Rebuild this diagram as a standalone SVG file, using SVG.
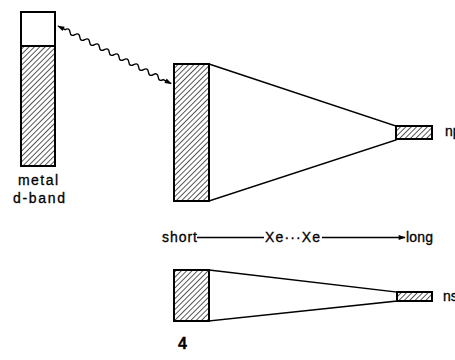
<svg xmlns="http://www.w3.org/2000/svg" width="455" height="360" viewBox="0 0 455 360">
<defs>
<pattern id="hatch" patternUnits="userSpaceOnUse" width="3.8" height="3.8" patternTransform="rotate(45)">
<line x1="0" y1="0" x2="0" y2="3.8" stroke="#000" stroke-width="1.3"/>
</pattern>
<marker id="ah" viewBox="0 0 10 10" refX="9" refY="5" markerWidth="10" markerHeight="7" markerUnits="userSpaceOnUse" orient="auto-start-reverse">
<path d="M0,1.5 L10,5 L0,8.5 z" fill="#000"/>
</marker>
</defs>
<style>
.box{stroke:#000;stroke-width:2;}
.ln{stroke:#000;stroke-width:1.4;fill:none;}
.t{font-family:"Liberation Sans","DejaVu Sans",sans-serif;font-size:14px;fill:#000;stroke:#000;stroke-width:0.3;}
</style>
<rect width="455" height="360" fill="#fff"/>
<g id="metal">
<rect x="21" y="46" width="34" height="120" fill="url(#hatch)"/>
<rect x="21" y="12" width="34" height="154" fill="none" class="box"/>
<line x1="21" y1="46" x2="55" y2="46" class="box"/>
<text class="t" x="38" y="185" text-anchor="middle" textLength="40">metal</text>
<text class="t" x="39" y="203" text-anchor="middle" textLength="52">d-band</text>
</g>
<g id="np-set">
<polygon points="209,64 396,126 396,140 209,201" fill="#fff" class="ln"/>
<rect x="174" y="64" width="35" height="137" fill="url(#hatch)" class="box"/>
<rect x="396" y="126" width="36" height="13" fill="url(#hatch)" class="box"/>
<text class="t" x="445" y="136">np</text>
</g>
<g id="ns-set">
<polygon points="209,270 397,292 397,301 209,321" fill="#fff" class="ln"/>
<rect x="174" y="270" width="35" height="51" fill="url(#hatch)" class="box"/>
<rect x="397" y="292" width="35" height="9" fill="url(#hatch)" class="box"/>
<text class="t" x="443" y="301">ns</text>
</g>
<g id="axis">
<text class="t" x="162" y="242" textLength="35">short</text>
<line x1="197" y1="237.5" x2="264" y2="237.5" class="ln"/>
<text class="t" x="265" y="242" textLength="55">Xe···Xe</text>
<line x1="322" y1="237.5" x2="405" y2="237.5" class="ln" marker-end="url(#ah)"/>
<text class="t" x="406" y="242" textLength="27">long</text>
</g>
<g id="connectors">
<g transform="translate(58,26) rotate(27)">
<path d="M0,0 L8,0 q2.75,-4 5.5,0 t5.5,0 t5.5,0 t5.5,0 t5.5,0 t5.5,0 t5.5,0 t5.5,0 t5.5,0 t5.5,0 t5.5,0 t5.5,0 t5.5,0 t5.5,0 t5.5,0 t5.5,0 t5.5,0 t5.5,0 t5.5,0 t5.5,0 L127,0" class="ln" marker-start="url(#ah)" marker-end="url(#ah)"/>
</g>
</g>
<text class="t" x="178" y="349" style="font-weight:bold;font-size:16px">4</text>
</svg>
